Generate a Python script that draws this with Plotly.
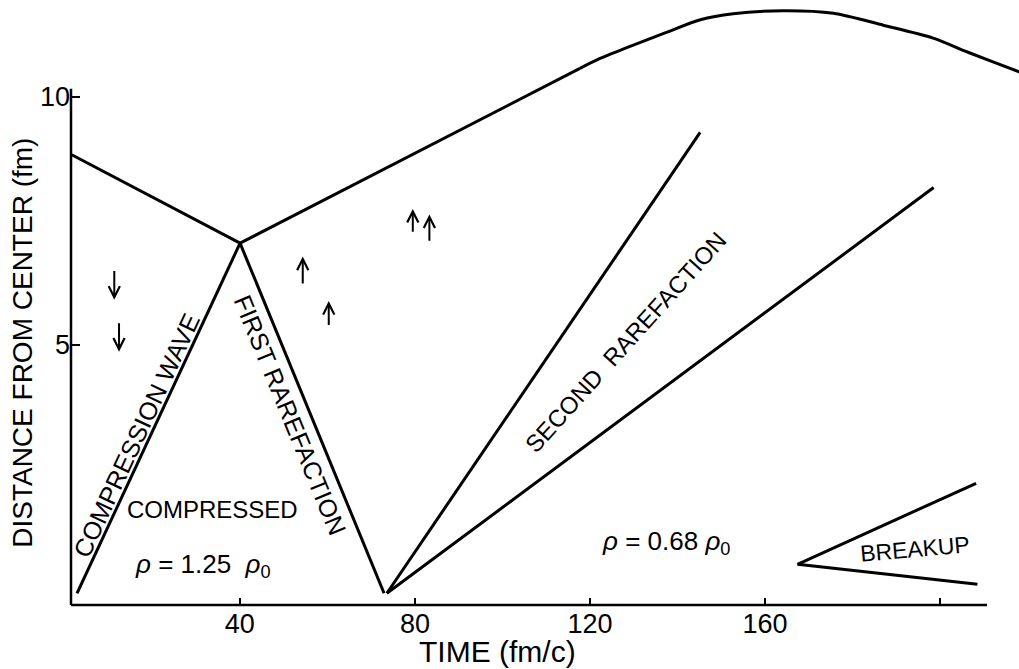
import plotly.graph_objects as go

# ---- data (time in fm/c, distance in fm) ----
surface_in_t = [1.6, 40.06]
surface_in_r = [8.83, 7.05]

surface_out_straight_t = [40.06, 117.7]
surface_out_straight_r = [7.05, 10.57]
surface_out_curve_t = [117.7, 122.3, 129.9, 137.6, 145.2, 152.7,
                       164.1, 175.6, 187.0, 198.4, 206.2, 218.0, 220.6]
surface_out_curve_r = [10.57, 10.77, 11.04, 11.30, 11.55, 11.67,
                       11.73, 11.68, 11.44, 11.18, 10.90, 10.50, 10.42]

compression_t = [2.81, 40.06]
compression_r = [0.0, 7.05]

first_raref_t = [40.06, 72.96]
first_raref_r = [7.05, 0.0]

second_raref_a_t = [73.6, 145.16]
second_raref_a_r = [0.0, 9.28]
second_raref_b_t = [73.6, 198.5]
second_raref_b_r = [0.0, 8.17]

breakup_up_t = [167.4, 208.2]
breakup_up_r = [0.584, 2.215]
breakup_lo_t = [167.4, 208.5]
breakup_lo_r = [0.584, 0.181]

# arrows: x, tail y, head y
arrow_t = [11.33, 12.41, 54.38, 60.32, 79.52, 83.31]
arrow_tail_r = [6.52, 5.47, 6.21, 5.37, 7.25, 7.07]
arrow_head_r = [5.91, 4.865, 6.78, 5.886, 7.74, 7.63]

x_tickvals = [40, 80, 120, 160, 200]
x_ticktext = ["40", "80", "120", "160", ""]
y_tickvals = [5, 10]
y_ticktext = ["5", "10"]

FONT = "Liberation Sans, Arial, sans-serif"
LW = 3

fig = go.Figure()

def add_line(t, r, shape="linear"):
    fig.add_trace(go.Scatter(x=t, y=r, mode="lines",
                             line=dict(color="black", width=LW, shape=shape, smoothing=0.8),
                             hoverinfo="skip", showlegend=False))

add_line(surface_in_t, surface_in_r)
add_line(surface_out_straight_t, surface_out_straight_r)
add_line(surface_out_curve_t, surface_out_curve_r, shape="spline")
add_line(compression_t, compression_r)
add_line(first_raref_t, first_raref_r)
add_line(second_raref_a_t, second_raref_a_r)
add_line(second_raref_b_t, second_raref_b_r)
add_line(breakup_up_t, breakup_up_r)
add_line(breakup_lo_t, breakup_lo_r)

ann = []
for t, rt, rh in zip(arrow_t, arrow_tail_r, arrow_head_r):
    ann.append(dict(x=t, y=rh, ax=t, ay=rt, xref="x", yref="y", axref="x", ayref="y",
                    text="", showarrow=True, arrowhead=5, arrowsize=1.1, arrowwidth=2,
                    arrowcolor="black", standoff=0, startstandoff=0))

def label(text, x, y, size, angle=0, ref="data"):
    xr, yr = ("x", "y") if ref == "data" else ("paper", "paper")
    ann.append(dict(x=x, y=y, xref=xr, yref=yr, text=text, showarrow=False,
                    textangle=angle, font=dict(family=FONT, size=size, color="black"),
                    xanchor="center", yanchor="middle"))

label("COMPRESSION WAVE", 16.3, 3.17, 25, -65)
label("FIRST RAREFACTION", 51.5, 3.59, 25, 67.7)
label("SECOND  RAREFACTION", 128.0, 5.06, 24, -48)
label("COMPRESSED", 33.8, 1.68, 24)
label("<i>ρ</i> = 1.25  <i>ρ</i><sub>0</sub>", 31.6, 0.55, 26)
label("<i>ρ</i> = 0.68 <i>ρ</i><sub>0</sub>", 137.3, 1.03, 26)
label("BREAKUP", 194.3, 0.89, 23, -5)
label("TIME (fm/c)", 0.4499, -0.0772, 30, 0, ref="paper")
label("DISTANCE FROM CENTER (fm)", -0.052, 0.433, 28, -90, ref="paper")

shapes = [
    dict(type="line", xref="x", yref="paper", x0=1.44, x1=210.7, y0=0, y1=0,
         line=dict(color="black", width=2.5)),
    dict(type="line", xref="paper", yref="y", x0=0, x1=0, y0=-0.236, y1=10.16,
         line=dict(color="black", width=2.5)),
]

fig.update_layout(
    width=1019, height=669,
    margin=dict(l=71, r=0, t=0, b=64),
    paper_bgcolor="white", plot_bgcolor="white",
    annotations=ann, shapes=shapes,
    font=dict(family=FONT, color="black"),
    xaxis=dict(range=[1.44, 218.0], showgrid=False, zeroline=False, showline=False,
               tickmode="array", tickvals=x_tickvals, ticktext=x_ticktext,
               ticks="inside", ticklen=7, tickwidth=2, tickcolor="black",
               tickfont=dict(family=FONT, size=27, color="black")),
    yaxis=dict(range=[-0.236, 11.947], showgrid=False, zeroline=False, showline=False,
               tickmode="array", tickvals=y_tickvals, ticktext=y_ticktext,
               ticks="inside", ticklen=9, tickwidth=2, tickcolor="black",
               tickfont=dict(family=FONT, size=27, color="black")),
)

fig.write_html("out.html", config={"displayModeBar": False},
               post_script="document.body.style.margin='0';")
